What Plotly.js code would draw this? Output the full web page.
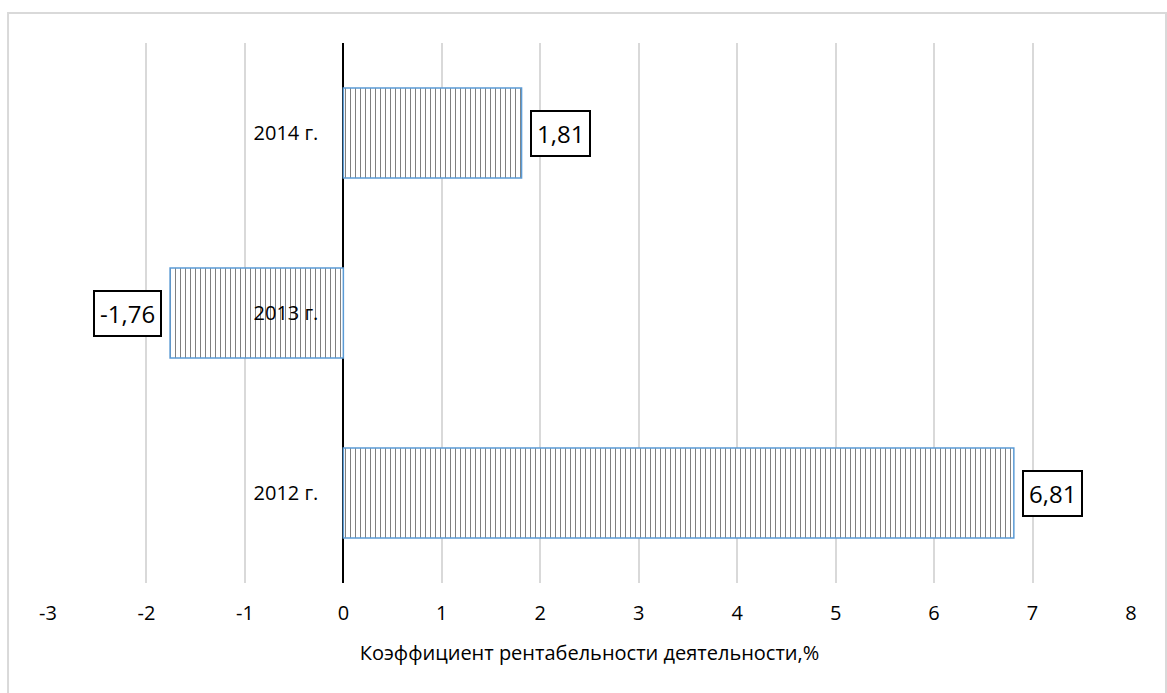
<!DOCTYPE html>
<html>
<head>
<meta charset="utf-8">
<script src="https://cdn.plot.ly/plotly-3.0.1.min.js"></script>
<style>html,body{margin:0;padding:0;background:#fff;}#chart{width:1167px;height:693px;}</style>
</head>
<body>
<div id="chart"></div>
<script>
const categories = ['2012 г.', '2013 г.', '2014 г.'];
const values = [6.81, -1.76, 1.81];
const xTicks = [-3, -2, -1, 0, 1, 2, 3, 4, 5, 6, 7, 8];
const xTitle = 'Коэффициент рентабельности деятельности,%';

const FONT = 'Open Sans, Liberation Sans, sans-serif';
const fmt = v => v.toFixed(2).replace('.', ',');

const trace = {
  type: 'bar',
  orientation: 'h',
  y: categories,
  x: values,
  marker: {
    color: '#ffffff',
    line: {color: '#5b9bd5', width: 1.5},
    pattern: {shape: '|', size: 5, solidity: 0.15, fgcolor: '#555555', bgcolor: '#ffffff', fillmode: 'replace'}
  },
  hoverinfo: 'none'
};

const annotations = categories.map((c, i) => ({
  x: values[i], y: c, xref: 'x', yref: 'y',
  text: fmt(values[i]),
  showarrow: false,
  xanchor: values[i] >= 0 ? 'left' : 'right',
  xshift: values[i] >= 0 ? 8 : -8,
  font: {family: FONT, size: 24, color: '#000'},
  bordercolor: '#000', borderwidth: 2, borderpad: 5, bgcolor: '#fff'
}));

const layout = {
  width: 1167, height: 693,
  margin: {l: 48, r: 36, t: 43, b: 110},
  paper_bgcolor: '#fff', plot_bgcolor: '#fff',
  showlegend: false,
  bargap: 0.5,
  font: {family: FONT, color: '#000'},
  xaxis: {
    range: [-3, 8],
    tickvals: xTicks,
    ticktext: xTicks.map(String),
    showgrid: true, gridcolor: '#d9d9d9', gridwidth: 2,
    zeroline: true, zerolinecolor: '#000', zerolinewidth: 2,
    showline: false, ticks: '',
    ticklabelstandoff: 16,
    tickfont: {family: FONT, size: 20, color: '#000'},
    title: {text: xTitle, font: {family: FONT, size: 20, color: '#000'}, standoff: 20}
  },
  yaxis: {
    type: 'category',
    categoryorder: 'array', categoryarray: categories,
    range: [-0.5, 2.5],
    anchor: 'free', position: 3 / 11,
    showgrid: false, zeroline: false, showline: false, ticks: '',
    ticklabelstandoff: 25,
    tickfont: {family: FONT, size: 20, color: '#000'}
  },
  annotations: annotations,
  shapes: [{
    type: 'rect', xref: 'paper', yref: 'paper',
    x0: -0.0369, x1: 1.0323, y0: -0.25, y1: 1.0556,
    line: {color: '#d9d9d9', width: 2}, layer: 'below'
  }]
};

Plotly.newPlot('chart', [trace], layout, {displayModeBar: false, staticPlot: true});
</script>
</body>
</html>
